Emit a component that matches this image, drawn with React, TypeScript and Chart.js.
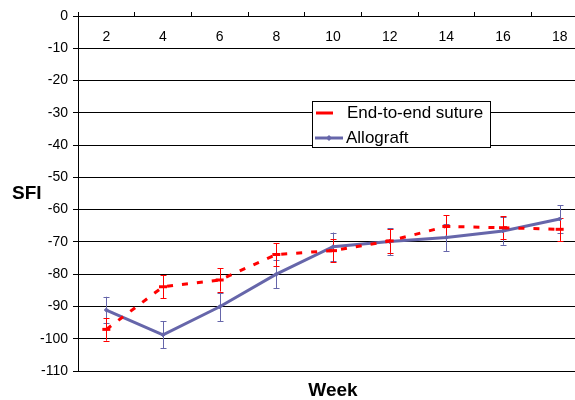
import React, { useEffect, useRef } from "react";
import { Chart, registerables } from "chart.js";

Chart.register(...registerables);

const weeks = ["2", "4", "6", "8", "10", "12", "14", "16", "18"];
const sutureMean = [-97.1, -83.9, -81.8, -73.9, -72.7, -69.7, -65.2, -65.6, -66.1];
const sutureErr = [3.5, 3.5, 3.6, 3.5, 3.5, 3.6, 3.4, 3.5, 3.6];
const allograftMean = [-91.1, -98.8, -90.1, -80.0, -71.5, -69.9, -68.6, -66.6, -62.9];
const allograftErr = [4.1, 4.2, 4.4, 4.3, 4.4, 4.2, 4.3, 4.3, 4.3];
const yTicks = [0, -10, -20, -30, -40, -50, -60, -70, -80, -90, -100, -110];

const FONT = "'Liberation Sans', Arial, sans-serif";
const RED = "#ff0000";
const BLUE = "#6666aa";

const errorBarPlugin = {
  id: "errorBars",
  beforeDatasetsDraw(chart: any) {
    const ctx = chart.ctx;
    const x = chart.scales.x;
    const y = chart.scales.y;
    const sets = [
      { mean: allograftMean, err: allograftErr, color: BLUE },
      { mean: sutureMean, err: sutureErr, color: RED },
    ];
    ctx.save();
    ctx.lineWidth = 1;
    sets.forEach((s) => {
      ctx.strokeStyle = s.color;
      s.mean.forEach((m, i) => {
        const px = Math.round(x.getPixelForValue(i)) + 0.5;
        const top = y.getPixelForValue(m + s.err[i]);
        const bot = y.getPixelForValue(m - s.err[i]);
        ctx.beginPath();
        ctx.moveTo(px, top);
        ctx.lineTo(px, bot);
        ctx.moveTo(px - 3, Math.round(top) + 0.5);
        ctx.lineTo(px + 3, Math.round(top) + 0.5);
        ctx.moveTo(px - 3, Math.round(bot) + 0.5);
        ctx.lineTo(px + 3, Math.round(bot) + 0.5);
        ctx.stroke();
      });
    });
    ctx.restore();
  },
};

const textPlugin = {
  id: "texts",
  afterDraw(chart: any) {
    const ctx = chart.ctx;
    const area = chart.chartArea;
    const x = chart.scales.x;
    ctx.save();
    ctx.fillStyle = "#000";
    // category labels inside the plot, below the top axis
    ctx.font = `14px ${FONT}`;
    ctx.textAlign = "center";
    ctx.textBaseline = "middle";
    weeks.forEach((w, i) => {
      ctx.fillText(w, x.getPixelForValue(i), area.top + 21);
    });
    // axis titles
    ctx.font = `bold 19px ${FONT}`;
    ctx.textAlign = "left";
    ctx.fillText("SFI", 12, (area.top + area.bottom) / 2);
    ctx.textAlign = "center";
    ctx.fillText("Week", (area.left + area.right) / 2, 391);
    // legend
    const lx = 312, ly = 101, lw = 178, lh = 46;
    ctx.fillStyle = "#fff";
    ctx.fillRect(lx, ly, lw, lh);
    ctx.strokeStyle = "#000";
    ctx.lineWidth = 1;
    ctx.strokeRect(lx + 0.5, ly + 0.5, lw, lh);
    ctx.lineWidth = 3;
    ctx.strokeStyle = RED;
    ctx.beginPath();
    ctx.moveTo(316, 113);
    ctx.lineTo(333, 113);
    ctx.stroke();
    ctx.strokeStyle = BLUE;
    ctx.beginPath();
    ctx.moveTo(315, 138);
    ctx.lineTo(343, 138);
    ctx.stroke();
    ctx.fillStyle = BLUE;
    ctx.beginPath();
    ctx.moveTo(329, 135);
    ctx.lineTo(332, 138);
    ctx.lineTo(329, 141);
    ctx.lineTo(326, 138);
    ctx.closePath();
    ctx.fill();
    ctx.fillStyle = "#000";
    ctx.font = `17px ${FONT}`;
    ctx.textAlign = "left";
    ctx.fillText("End-to-end suture", 347, 113);
    ctx.fillText("Allograft", 346, 138);
    ctx.restore();
  },
};

export default function App() {
  const ref = useRef<HTMLCanvasElement>(null);
  useEffect(() => {
    if (!ref.current) return;
    const chart = new Chart(ref.current, {
      type: "line",
      data: {
        labels: weeks,
        datasets: [
          {
            label: "End-to-end suture",
            data: sutureMean,
            borderColor: RED,
            backgroundColor: RED,
            borderWidth: 3,
            borderDash: [6, 9],
            borderCapStyle: "butt",
            pointStyle: "line",
            pointRadius: 4,
            pointBorderWidth: 3,
            pointBorderColor: RED,
            tension: 0,
            fill: false,
          },
          {
            label: "Allograft",
            data: allograftMean,
            borderColor: BLUE,
            backgroundColor: BLUE,
            borderWidth: 3,
            pointStyle: "rectRot",
            pointRadius: 2,
            pointBorderWidth: 1,
            tension: 0,
            fill: false,
          },
        ],
      },
      options: {
        responsive: false,
        animation: false,
        devicePixelRatio: 1,
        layout: { padding: { top: 12, right: 12, bottom: 29, left: 0 } },
        plugins: { legend: { display: false }, tooltip: { enabled: false } },
        scales: {
          x: {
            type: "category",
            position: "top",
            offset: true,
            afterFit: (s: any) => {
              s.height = 4;
            },
            ticks: { display: false },
            grid: {
              offset: true,
              drawOnChartArea: false,
              drawTicks: true,
              tickLength: 4,
              color: "#000",
            },
            border: { display: true, color: "#000", width: 1 },
          },
          y: {
            min: -110,
            max: 0,
            afterFit: (s: any) => {
              s.width = 78;
            },
            afterBuildTicks: (s: any) => {
              s.ticks = yTicks.map((v) => ({ value: v }));
            },
            ticks: {
              color: "#000",
              font: { family: FONT, size: 14 },
              padding: 5,
            },
            grid: { color: "#000", lineWidth: 1, tickLength: 5, drawTicks: true },
            border: { display: true, color: "#000", width: 1 },
          },
        },
      },
      plugins: [errorBarPlugin, textPlugin],
    } as any);
    return () => chart.destroy();
  }, []);
  return (
    <div
      style={{
        position: "fixed",
        left: 0,
        top: 0,
        width: 575,
        height: 400,
        overflow: "hidden",
        background: "#fff",
      }}
    >
      <canvas ref={ref} width={600} height={400} />
    </div>
  );
}
